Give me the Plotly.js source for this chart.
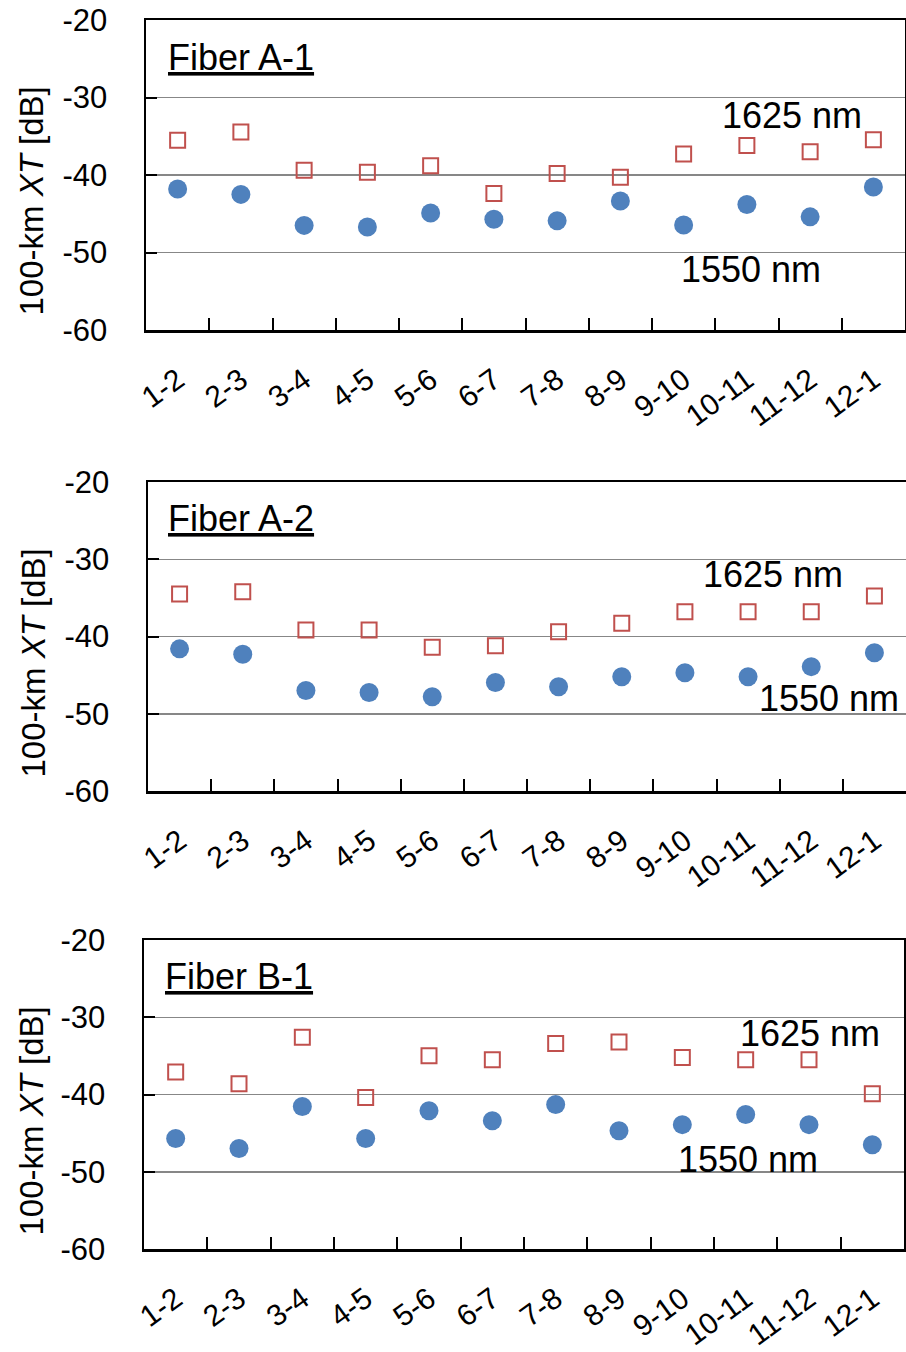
<!DOCTYPE html>
<html>
<head>
<meta charset="utf-8">
<script src="https://cdn.plot.ly/plotly-3.0.1.min.js"></script>
<style>
  html, body { margin: 0; padding: 0; background: #fff; overflow: hidden; }
  #chart { width: 906px; height: 1352px; }
</style>
</head>
<body>
<div id="chart"></div>
<script>
// ---- data ----
const categories = ['1-2','2-3','3-4','4-5','5-6','6-7','7-8','8-9','9-10','10-11','11-12','12-1'];

const fiberA1_1550 = [-41.8, -42.5, -46.5, -46.7, -44.9, -45.7, -45.9, -43.35, -46.45, -43.8, -45.4, -41.55];
const fiberA1_1625 = [-35.5, -34.45, -39.4, -39.65, -38.8, -42.4, -39.8, -40.3, -37.3, -36.2, -37.0, -35.45];

const fiberA2_1550 = [-41.6, -42.3, -47.0, -47.25, -47.8, -45.95, -46.5, -45.2, -44.7, -45.2, -43.9, -42.1];
const fiberA2_1625 = [-34.5, -34.2, -39.15, -39.15, -41.4, -41.2, -39.4, -38.3, -36.8, -36.8, -36.8, -34.75];

const fiberB1_1550 = [-45.7, -47.0, -41.55, -45.7, -42.1, -43.4, -41.3, -44.7, -43.9, -42.6, -43.9, -46.5];
const fiberB1_1625 = [-37.1, -38.6, -32.6, -40.4, -35.0, -35.5, -33.4, -33.2, -35.2, -35.5, -35.5, -39.9];

const panelTitles = ['Fiber A-1', 'Fiber A-2', 'Fiber B-1'];
const seriesNames = ['1550 nm', '1625 nm'];
const yTitle = '100-km <i>XT</i> [dB]';
const yTickVals = [-60, -50, -40, -30, -20];
const yTickText = ['-60', '-50', '-40', '-30', '-20'];

// ---- helpers ----
const W = 906, H = 1352;
const px = x => x / W;
const py = y => 1 - y / H;

const BLUE = '#4f81bd';
const RED = '#c0504d';
const FONT = 'Liberation Sans, Arial, sans-serif';

const panels = [
  { s1550: fiberA1_1550, s1625: fiberA1_1625, x0: 146, x1: 905, top: 20, bot: 330, mirrorY: true,
    title: [166, 57], lab1625: [720, 115.5], lab1550: [679, 269], ytitle: [31, 201.5] },
  { s1550: fiberA2_1550, s1625: fiberA2_1625, x0: 148, x1: 906, top: 482, bot: 791, mirrorY: false,
    title: [166, 518], lab1625: [701, 575], lab1550: [757, 699], ytitle: [33, 663.5] },
  { s1550: fiberB1_1550, s1625: fiberB1_1625, x0: 144, x1: 904, top: 940, bot: 1249, mirrorY: true,
    title: [163, 976], lab1625: [738, 1033.7], lab1550: [676, 1159], ytitle: [31, 1121.5] }
];

const traces = [];
const layout = {
  width: W, height: H,
  margin: { l: 0, r: 0, t: 0, b: 0 },
  paper_bgcolor: '#fff', plot_bgcolor: '#fff',
  showlegend: false,
  font: { family: FONT, color: '#000' },
  annotations: []
};

panels.forEach((p, i) => {
  const n = i === 0 ? '' : String(i + 1);
  const xa = 'x' + n, ya = 'y' + n;
  traces.push({
    type: 'scatter', mode: 'markers', name: seriesNames[0],
    x: categories, y: p.s1550, xaxis: xa, yaxis: ya,
    marker: { symbol: 'circle', size: 19, color: BLUE }
  });
  traces.push({
    type: 'scatter', mode: 'markers', name: seriesNames[1],
    x: categories, y: p.s1625, xaxis: xa, yaxis: ya,
    marker: { symbol: 'square-open', size: 15, color: RED, line: { color: RED, width: 2 } }
  });

  layout['xaxis' + n] = {
    domain: [px(p.x0), px(p.x1)],
    anchor: ya,
    type: 'category',
    categoryorder: 'array', categoryarray: categories,
    range: [-0.5, categories.length - 0.5],
    tickson: 'boundaries',
    ticks: 'inside', ticklen: 12, tickwidth: 2, tickcolor: '#000',
    showline: true, linecolor: '#000', linewidth: 2.5, mirror: true,
    showgrid: false, zeroline: false,
    tickangle: -36,
    tickfont: { family: FONT, size: 30, color: '#000' },
    ticklabelstandoff: 18,
    fixedrange: true
  };
  layout['yaxis' + n] = {
    domain: [py(p.bot), py(p.top)],
    anchor: xa,
    range: [-60, -20],
    tickmode: 'array', tickvals: yTickVals, ticktext: yTickText,
    ticks: 'inside', ticklen: 11, tickwidth: 2, tickcolor: '#000',
    showline: true, linecolor: '#000', linewidth: 2.5, mirror: p.mirrorY,
    showgrid: true, gridcolor: '#878787', gridwidth: 1.5,
    zeroline: false,
    tickfont: { family: FONT, size: 31, color: '#000' },
    ticklabelstandoff: 30,
    fixedrange: true
  };

  layout.annotations.push(
    { xref: 'paper', yref: 'paper', x: px(p.title[0]), y: py(p.title[1]),
      xanchor: 'left', yanchor: 'middle', showarrow: false,
      text: '<u>' + panelTitles[i] + '</u>', font: { family: FONT, size: 36, color: '#000' } },
    { xref: 'paper', yref: 'paper', x: px(p.lab1625[0]), y: py(p.lab1625[1]),
      xanchor: 'left', yanchor: 'middle', showarrow: false,
      text: seriesNames[1], font: { family: FONT, size: 36, color: '#000' } },
    { xref: 'paper', yref: 'paper', x: px(p.lab1550[0]), y: py(p.lab1550[1]),
      xanchor: 'left', yanchor: 'middle', showarrow: false,
      text: seriesNames[0], font: { family: FONT, size: 36, color: '#000' } },
    { xref: 'paper', yref: 'paper', x: px(p.ytitle[0]), y: py(p.ytitle[1]),
      xanchor: 'center', yanchor: 'middle', showarrow: false, textangle: -90,
      text: yTitle, font: { family: FONT, size: 33, color: '#000' } }
  );
});

Plotly.newPlot('chart', traces, layout, { displayModeBar: false, staticPlot: true });
</script>
</body>
</html>
